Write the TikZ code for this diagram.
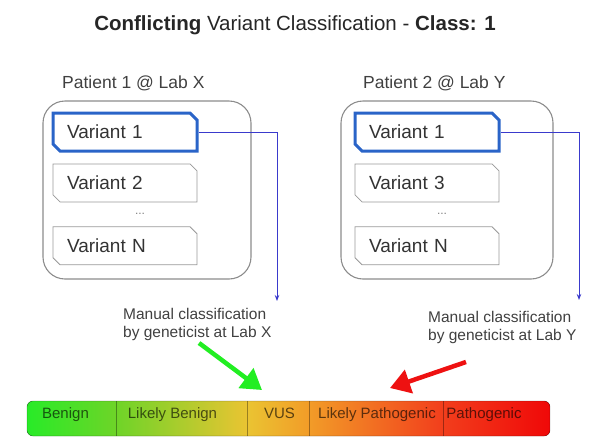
\documentclass[tikz,border=0pt]{standalone}
\usepackage{fontspec}
\setmainfont{Liberation Sans}
\usepackage{tikz}
\usetikzlibrary{arrows.meta, positioning, calc, shapes.misc}
\definecolor{boxgray}{RGB}{140,140,140}
\definecolor{textgray}{RGB}{51,51,51}
\definecolor{selblue}{RGB}{42,100,200}
\definecolor{linkblue}{RGB}{58,58,204}
\definecolor{arrowgreen}{RGB}{34,238,34}
\definecolor{arrowred}{RGB}{238,17,17}
\definecolor{scaleGreen}{RGB}{40,235,40}
\definecolor{scaleLime}{RGB}{110,212,40}
\definecolor{scaleYellow}{RGB}{234,196,50}
\definecolor{scaleOrange}{RGB}{242,156,40}
\definecolor{scaleRedOrange}{RGB}{242,62,28}
\definecolor{scaleRed}{RGB}{240,8,8}

\begin{document}
\begin{tikzpicture}[x=1pt, y=-1pt,
  panel/.style={draw=boxgray, line width=1.1pt, rounded corners=22pt,
    minimum width=#1, minimum height=178pt},
  varbox/.style={chamfered rectangle, chamfered rectangle corners={north east, south west},
    chamfered rectangle sep=3.5pt, draw=black!40, line width=0.8pt, fill=white,
    minimum width=144pt, minimum height=38pt, text width=116pt, align=left,
    font=\fontsize{19}{22}\selectfont, text=textgray},
  selbox/.style={varbox, draw=selblue, line width=3pt},
  patlab/.style={anchor=base west, inner sep=0pt, text=black!75,
    font=\fontsize{17.5}{20}\selectfont},
  dots/.style={inner sep=0pt, text=black!50, font=\fontsize{12}{13}\selectfont},
  link/.style={draw=linkblue, line width=0.9pt, -{Stealth[length=6pt,width=4.5pt]}},
  note/.style={anchor=north west, inner sep=0pt, align=left, text=black!75,
    font=\fontsize{15.5}{18}\selectfont},
  bigarrow/.style={line width=4.5pt, -{Triangle[length=20pt,width=24pt]}},
  barlab/.style={anchor=base, inner sep=0pt, text=black, text opacity=0.62,
    font=\fontsize{15}{17}\selectfont}]
  \useasboundingbox (0,0) rectangle (589,437);

  % title
  \node[anchor=base, inner sep=0pt, text=black!85, font=\fontsize{20.5}{24}\selectfont]
    (title) at (295,30) {\textbf{Conflicting} Variant Classification - \textbf{Class: 1}};

  % patient 1 @ lab X
  \node[panel=208pt] (patX) at (147,190) {};
  \node[patlab] (labX) at (62,88) {Patient 1 @ Lab X};
  \node[selbox] (vX1) at (125,132) {Variant 1};
  \node[varbox, below=11pt of vX1] (vX2) {Variant 2};
  \node[varbox, below=24pt of vX2] (vXN) {Variant N};
  \node[dots] (dX) at ($(vX2.south)!0.5!(vXN.north)+(15,0)$) {...};

  % patient 2 @ lab Y
  \node[panel=212pt] (patY) at (447,190) {};
  \node[patlab] (labY) at (363,88) {Patient 2 @ Lab Y};
  \node[selbox] (vY1) at (427,132) {Variant 1};
  \node[varbox, below=11pt of vY1] (vY3) {Variant 3};
  \node[varbox, below=24pt of vY3] (vYN) {Variant N};
  \node[dots] (dY) at ($(vY3.south)!0.5!(vYN.north)+(15,0)$) {...};

  % links down to the notes
  \coordinate (tipX) at (277,301);
  \coordinate (tipY) at (579,300);
  \draw[link] (vX1.east) -| (tipX);
  \draw[link] (vY1.east) -| (tipY);
  \node[note] (noteX) at (123,307.7) {Manual classification\\by geneticist at Lab X};
  \node[note] (noteY) at (428,310.7) {Manual classification\\by geneticist at Lab Y};

  % classification scale
  \begin{scope}
    \clip[rounded corners=6pt] (27,401) rectangle (550,436);
    \foreach \xa/\xb/\ca/\cb in {27/116/scaleGreen/scaleLime, 116/247/scaleLime/scaleYellow,
        247/309/scaleYellow/scaleOrange, 309/443/scaleOrange/scaleRedOrange,
        443/550/scaleRedOrange/scaleRed}
      \fill[left color=\ca, right color=\cb] (\xa,401) rectangle (\xb,436);
  \end{scope}
  \foreach \xd in {116,247,309,443}
    \draw[black, opacity=0.35, line width=0.8pt] (\xd,401) -- (\xd,436);
  \draw[black, opacity=0.2, line width=0.8pt, rounded corners=6pt] (27,401) rectangle (550,436);
  \foreach \xc/\txt/\nm in {65.5/Benign/sBen, 172.5/Likely Benign/sLBen, 279.5/VUS/sVus,
      377/Likely Pathogenic/sLPat, 484/Pathogenic/sPat}
    \node[barlab] (\nm) at (\xc,418) {\txt};

  % arrows onto the scale
  \coordinate (gTail) at (199,343);
  \coordinate (gTip) at (262,390);
  \coordinate (rTail) at (466,362);
  \coordinate (rTip) at (390,388);
  \draw[bigarrow, arrowgreen] (gTail) -- (gTip);
  \draw[bigarrow, arrowred] (rTail) -- (rTip);
\end{tikzpicture}
\end{document}
